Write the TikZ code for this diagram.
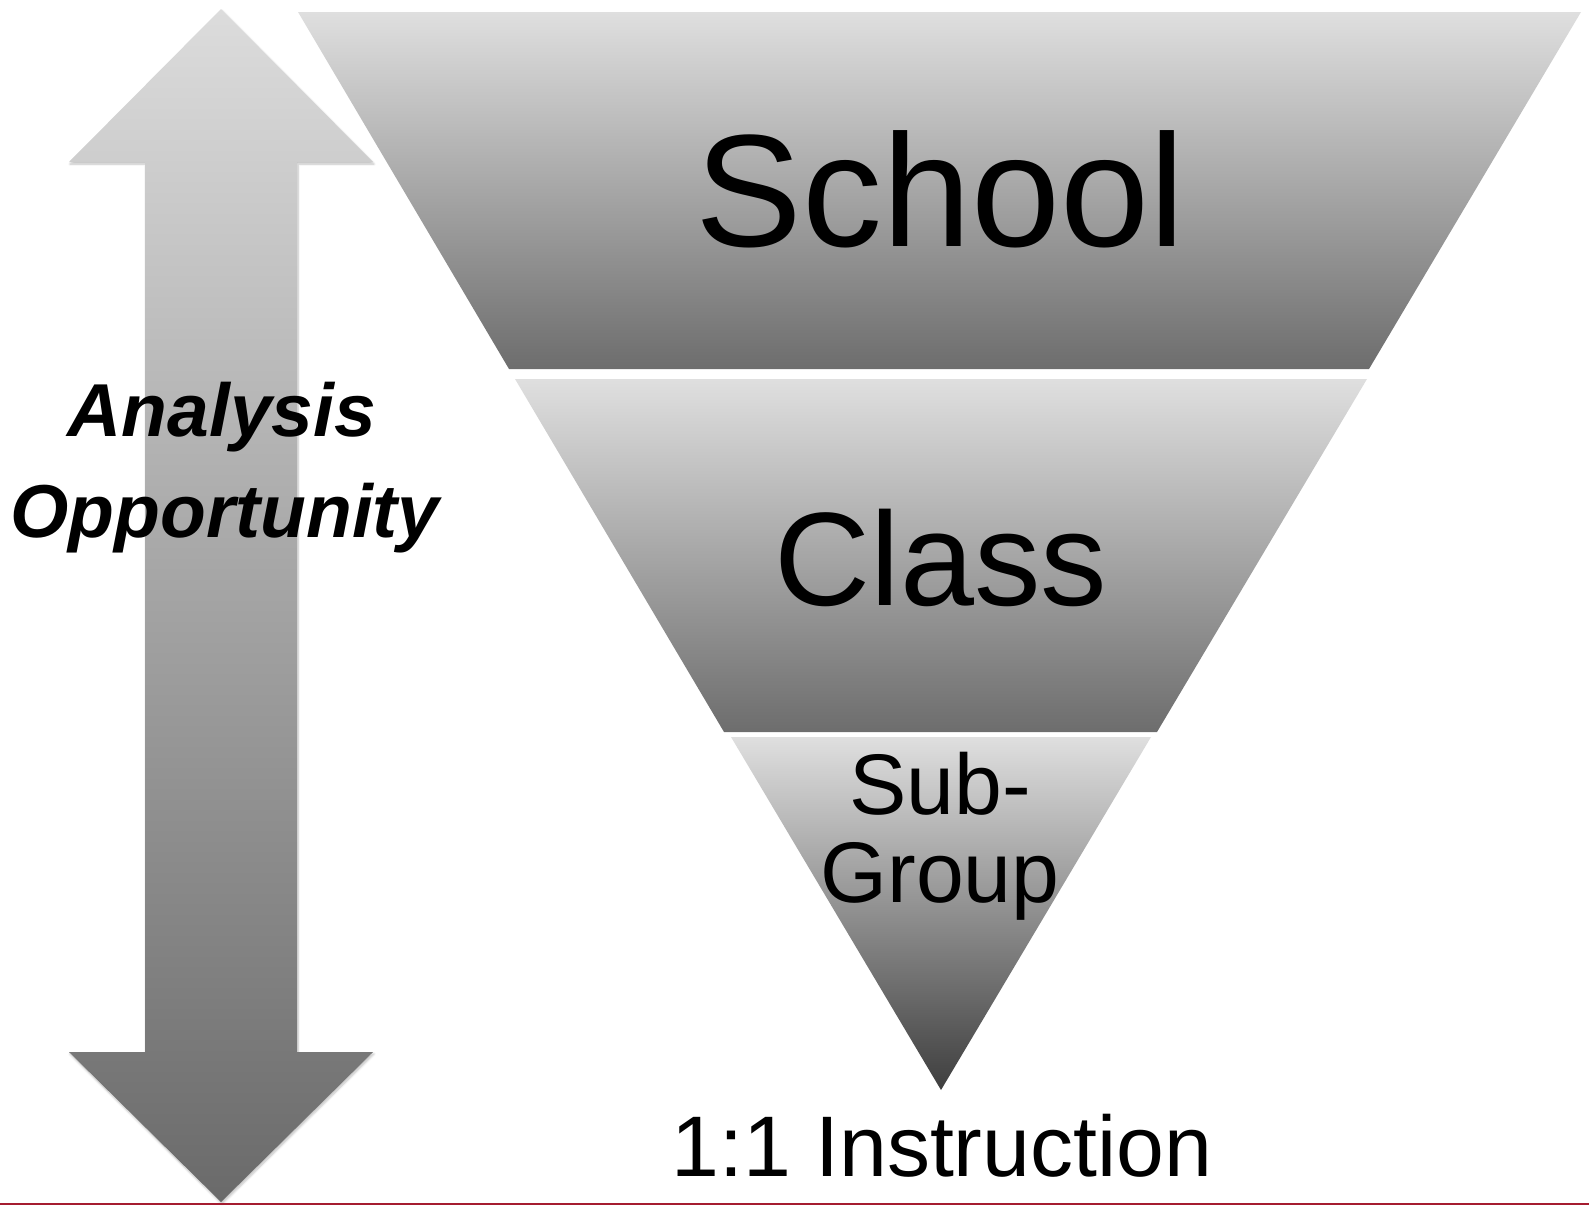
\documentclass[tikz,border=0pt]{standalone}
\usepackage{fontspec}
\setmainfont{Liberation Sans}
\usetikzlibrary{shadows.blur}
\definecolor{lighttop}{HTML}{DFDFDF}
\definecolor{darkbot}{HTML}{6D6D6D}
\definecolor{tribot}{HTML}{3E3E3E}
\definecolor{arrtop}{HTML}{DCDCDC}
\definecolor{arrbot}{HTML}{6A6A6A}
\definecolor{rule}{HTML}{A51C30}
\tikzset{
  level/.style={top color=lighttop, bottom color=darkbot},
  lowlevel/.style={top color=lighttop, bottom color=tribot},
  bigarrow/.style={top color=arrtop, bottom color=arrbot,
    blur shadow={shadow xshift=1pt, shadow yshift=-2pt, shadow blur steps=6, shadow opacity=25}},
  lbl/.style={anchor=base, inner sep=0pt, text=black},
}
\begin{document}
\begin{tikzpicture}[x=1pt,y=-1pt]
\useasboundingbox (0,0) rectangle (1589,1205);
% double arrow
\path[bigarrow] (221,9) -- (373,162) -- (297,162) -- (297,1052) -- (373,1052) -- (221,1202)
  -- (69,1052) -- (145,1052) -- (145,162) -- (69,162) -- cycle;
% funnel levels
\path[level] (298,12) -- (1581,12) -- (1369,369) -- (509,369) -- cycle;
\path[level] (515,379) -- (1367,379) -- (1157,732) -- (724,732) -- cycle;
\path[lowlevel] (731,737) -- (1151,737) -- (941,1090) -- cycle;
% bottom rule
\fill[rule] (0,1202.5) rectangle (1589,1205);
% labels
\node[lbl, font=\fontsize{160}{160}\selectfont] (school) at (940,246) {School};
\node[lbl, font=\fontsize{133}{133}\selectfont] (class) at (941,605) {Class};
\node[lbl, font=\fontsize{86}{86}\selectfont] (sub) at (940,814) {Sub-};
\node[lbl, font=\fontsize{86}{86}\selectfont] (group) at (940,902) {Group};
\node[lbl, font=\fontsize{86}{86}\selectfont] (one) at (942,1176) {1:1 Instruction};
\node[lbl, font=\fontsize{75}{75}\selectfont\bfseries\itshape] (ana) at (222,436) {Analysis};
\node[lbl, font=\fontsize{75}{75}\selectfont\bfseries\itshape] (opp) at (225,537) {Opportunity};
\end{tikzpicture}
\end{document}
